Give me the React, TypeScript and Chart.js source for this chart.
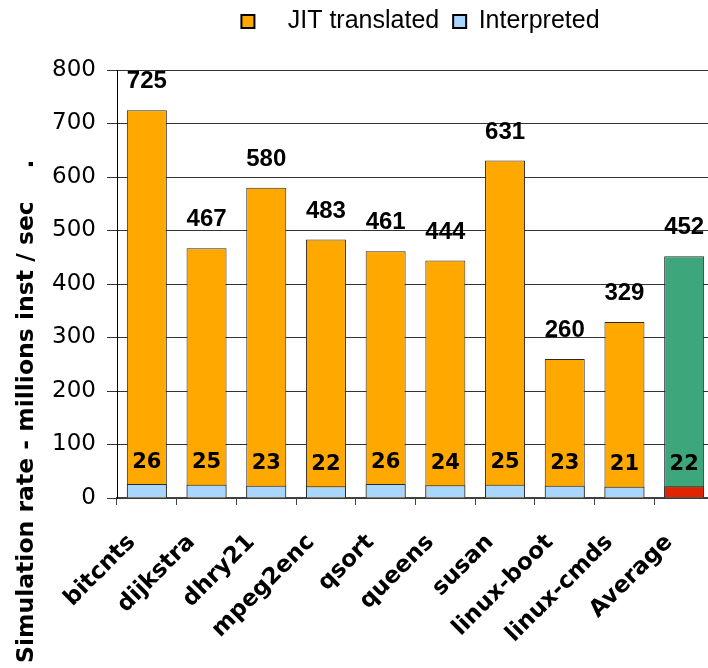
import React, { useEffect, useRef } from "react";
import { Chart, registerables } from "chart.js";

Chart.register(...registerables);

// Benchmarks on the x axis
const benchmarks = [
  "bitcnts",
  "dijkstra",
  "dhry21",
  "mpeg2enc",
  "qsort",
  "queens",
  "susan",
  "linux-boot",
  "linux-cmds",
  "Average",
];

// Simulation rate with JIT translation (millions of instructions / sec)
const jitTranslated = [725, 467, 580, 483, 461, 444, 631, 260, 329, 452];

// Simulation rate in interpreted mode (millions of instructions / sec)
const interpreted = [26, 25, 23, 22, 26, 24, 25, 23, 21, 22];

// Value axis
const yMin = 0;
const yMax = 800;
const yStep = 100;

const yTitle = "Simulation rate - millions inst / sec    .";

const AVG_INDEX = benchmarks.indexOf("Average");

const ORANGE = "#FFA800";
const PALE_BLUE = "#A8D6FF";
const GREEN = "#3DA67A";
const RED = "#E02400";
const EDGE = "#2a2a2a";

const CANVAS_W = 720;
const CANVAS_H = 668;

// Numbers above the bars and inside the interpreted segment
const valueLabels = {
  id: "valueLabels",
  afterDatasetsDraw(chart: any) {
    const ctx = chart.ctx;
    const jitMeta = chart.getDatasetMeta(0);
    const intMeta = chart.getDatasetMeta(1);
    ctx.save();
    ctx.fillStyle = "#000";
    ctx.textAlign = "center";
    ctx.textBaseline = "middle";
    ctx.font = "bold 24px 'Liberation Sans', Arial, sans-serif";
    jitMeta.data.forEach((bar: any, i: number) => {
      ctx.fillText(String(jitTranslated[i]), bar.x, bar.y - 28.5);
    });
    ctx.font = "bold 21px 'DejaVu Sans', Verdana, sans-serif";
    intMeta.data.forEach((bar: any, i: number) => {
      ctx.fillText(String(interpreted[i]), bar.x, bar.y - 22);
    });
    ctx.restore();
  },
};

// Rotated value-axis caption, running up from the bottom of the page
const yCaption = {
  id: "yCaption",
  afterDraw(chart: any) {
    const ctx = chart.ctx;
    ctx.save();
    ctx.translate(33, 663);
    ctx.rotate(-Math.PI / 2);
    ctx.fillStyle = "#000";
    ctx.font = "bold 23.5px 'DejaVu Sans', Verdana, sans-serif";
    ctx.textAlign = "left";
    ctx.textBaseline = "alphabetic";
    ctx.fillText(yTitle, 0, 0);
    ctx.restore();
  },
};

// Room between the legend and the plot, and a small nudge of the legend row
const legendPlacement = {
  id: "legendPlacement",
  beforeInit(chart: any) {
    const legend = chart.legend;
    if (!legend) return;
    const fit = legend.fit;
    legend.fit = function () {
      fit.call(this);
      this.height += 28;
    };
  },
  afterLayout(chart: any) {
    const legend = chart.legend;
    if (!legend) return;
    legend.left += 5;
    legend.right += 5;
    legend.top += 2;
    legend.bottom += 2;
  },
};

export default function App() {
  const canvasRef = useRef<HTMLCanvasElement | null>(null);

  useEffect(() => {
    if (!canvasRef.current) return;
    const chart = new Chart(canvasRef.current, {
      type: "bar",
      data: {
        labels: benchmarks,
        datasets: [
          {
            label: "   JIT translated ",
            data: jitTranslated,
            backgroundColor: (c: any) => (c.dataIndex === AVG_INDEX ? GREEN : ORANGE),
            borderColor: EDGE,
            borderWidth: 1,
            order: 2,
          },
          {
            label: "Interpreted",
            data: interpreted,
            backgroundColor: (c: any) => (c.dataIndex === AVG_INDEX ? RED : PALE_BLUE),
            borderColor: EDGE,
            borderWidth: 1,
            order: 1,
          },
        ],
      },
      options: {
        responsive: false,
        animation: false,
        devicePixelRatio: 1,
        layout: { padding: { left: 0, right: CANVAS_W - 714, top: 0, bottom: 0 } },
        datasets: {
          bar: { categoryPercentage: 1, barPercentage: 0.67 },
        },
        plugins: {
          tooltip: { enabled: false },
          legend: {
            display: true,
            position: "top",
            fullSize: false,
            labels: {
              boxWidth: 13,
              boxHeight: 13,
              padding: 7,
              color: "#000",
              font: { family: "'Liberation Sans', Arial, sans-serif", size: 25 },
              sort: (a: any, b: any) => a.datasetIndex - b.datasetIndex,
              generateLabels: (chart: any) => {
                const items = Chart.defaults.plugins.legend.labels.generateLabels(chart);
                return items.map((it: any) => ({
                  ...it,
                  fillStyle: it.datasetIndex === 0 ? ORANGE : PALE_BLUE,
                  strokeStyle: "#000",
                  lineWidth: 2,
                }));
              },
            },
          },
        },
        scales: {
          x: {
            stacked: true,
            afterFit: (scale: any) => {
              scale.height = 170;
              scale.paddingLeft = 0;
              scale.paddingRight = 0;
            },
            grid: {
              display: true,
              drawOnChartArea: false,
              offset: true,
              tickLength: 7,
              color: "#444",
            },
            border: { display: true, color: "#444", width: 1.5 },
            ticks: {
              color: "#000",
              minRotation: 45,
              maxRotation: 45,
              autoSkip: false,
              padding: 24,
              labelOffset: -15,
              font: { family: "'DejaVu Sans', Verdana, sans-serif", size: 23, weight: "bold" },
            },
          },
          y: {
            stacked: false,
            min: yMin,
            max: yMax,
            afterFit: (scale: any) => {
              scale.width = 117;
            },
            grid: { color: "#333", lineWidth: 1, tickLength: 10 },
            border: { display: true, color: "#000", width: 1 },
            ticks: {
              stepSize: yStep,
              color: "#000",
              padding: 11,
              font: { family: "'DejaVu Sans', Verdana, sans-serif", size: 23 },
            },
          },
        },
      },
      plugins: [legendPlacement, valueLabels, yCaption],
    } as any);
    return () => chart.destroy();
  }, []);

  return (
    <div
      style={{
        position: "fixed",
        left: 0,
        top: 0,
        width: 708,
        height: 668,
        overflow: "hidden",
        background: "#fff",
      }}
    >
      <canvas
        ref={canvasRef}
        width={CANVAS_W}
        height={CANVAS_H}
        style={{ display: "block", width: CANVAS_W, height: CANVAS_H }}
      />
    </div>
  );
}
